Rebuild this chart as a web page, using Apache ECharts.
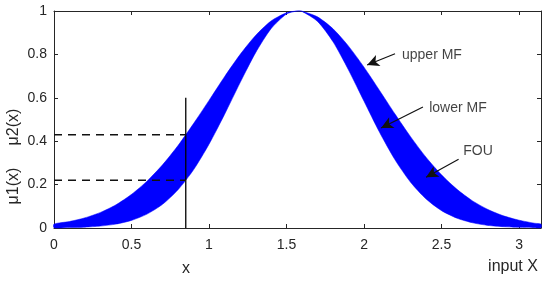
<!DOCTYPE html>
<html lang="en">
<head>
    <meta charset="UTF-8">
    <title>FOU</title>
    <script src="https://cdn.jsdelivr.net/npm/echarts@6/dist/echarts.min.js"></script>
    <style>
        html, body { margin: 0; padding: 0; background: #fff; }
    </style>
</head>
<body>
    <div id="main" style="width: 550px;height:281px;"></div>
</body>
    <script type="text/javascript">
        var xs = [0, 0.1, 0.2, 0.3, 0.4, 0.5, 0.6, 0.7, 0.8, 0.9, 1.0, 1.1, 1.2, 1.3, 1.4, 1.5, 1.57,
                  1.6, 1.7, 1.8, 1.9, 2.0, 2.1, 2.2, 2.3, 2.4, 2.5, 2.6, 2.7, 2.8, 2.9, 3.0, 3.1, 3.1416];
        var upperMF = [0.018, 0.030, 0.047, 0.072, 0.107, 0.155, 0.216, 0.291, 0.380, 0.481, 0.588, 0.697, 0.799, 0.887, 0.954, 0.992, 1.0,
                       0.999, 0.973, 0.918, 0.838, 0.741, 0.634, 0.525, 0.421, 0.326, 0.245, 0.178, 0.125, 0.085, 0.056, 0.036, 0.022, 0.018];
        var lowerMF = [0.001, 0.002, 0.004, 0.009, 0.018, 0.035, 0.064, 0.109, 0.176, 0.268, 0.386, 0.523, 0.669, 0.807, 0.918, 0.986, 1.0,
                       0.998, 0.952, 0.858, 0.728, 0.584, 0.441, 0.314, 0.211, 0.134, 0.080, 0.045, 0.024, 0.012, 0.006, 0.003, 0.001, 0.001];

        // the input x and its two grades
        var cutX = 0.85;
        var cutTop = 0.6;
        var cutGrades = [0.43, 0.22];

        // annotations: [text x, text y, arrow start x, arrow start y, arrow tip x, arrow tip y]
        var noteNames = ['upper MF', 'lower MF', 'FOU'];
        var notePos = [
            [2.245, 0.797, 2.20, 0.803, 2.02, 0.751],
            [2.42, 0.553, 2.38, 0.558, 2.11, 0.461],
            [2.64, 0.352, 2.61, 0.317, 2.40, 0.234]
        ];

        var xTicks = [0, 0.5, 1, 1.5, 2, 2.5, 3];

        var axisColor = '#262626';
        var font = 'Liberation Sans, Arial, sans-serif';

        var myChart = echarts.init(document.getElementById('main'));

        // FOU band: polygon along upper MF, back along lower MF
        function renderBand(params, api) {
            var pts = [];
            for (var i = 0; i < xs.length; i++) {
                pts.push(api.coord([xs[i], upperMF[i]]));
            }
            for (var j = xs.length - 1; j >= 0; j--) {
                pts.push(api.coord([xs[j], lowerMF[j]]));
            }
            return {
                type: 'polygon',
                shape: { points: pts, smooth: 0.25 },
                style: { fill: '#0000ff', stroke: '#0000ff', lineWidth: 0.5 }
            };
        }

        function sideAxisX(pos, showLabel) {
            return {
                type: 'value', position: pos, min: 0, max: 3.1416, interval: 0.5,
                axisLine: { onZero: false, lineStyle: { color: axisColor, width: 1 } },
                axisTick: { inside: true, length: 4, lineStyle: { color: axisColor } },
                axisLabel: {
                    show: showLabel, color: axisColor, fontSize: 14, fontFamily: font, margin: 10,
                    formatter: function (v) { return xTicks.indexOf(v) >= 0 ? String(v) : ''; }
                },
                splitLine: { show: false }
            };
        }

        function sideAxisY(pos, showLabel) {
            return {
                type: 'value', position: pos, min: 0, max: 1, interval: 0.2,
                axisLine: { show: true, onZero: false, lineStyle: { color: axisColor, width: 1 } },
                axisTick: { show: true, inside: true, length: 4, lineStyle: { color: axisColor } },
                axisLabel: { show: showLabel, color: axisColor, fontSize: 14, fontFamily: font, margin: 7 },
                splitLine: { show: false }
            };
        }

        var option = {
            animation: false,
            backgroundColor: '#fff',
            grid: { left: 54, right: 9, top: 11, bottom: 53 },
            xAxis: [sideAxisX('bottom', true), sideAxisX('top', false)],
            yAxis: [sideAxisY('left', true), sideAxisY('right', false)],
            graphic: [
                { type: 'text', x: 14, y: 127, rotation: Math.PI / 2,
                  style: { text: 'μ2(x)', fill: axisColor, font: '16px ' + font, align: 'center', verticalAlign: 'middle' } },
                { type: 'text', x: 14, y: 186, rotation: Math.PI / 2,
                  style: { text: 'μ1(x)', fill: axisColor, font: '16px ' + font, align: 'center', verticalAlign: 'middle' } },
                { type: 'text', x: 186, y: 269,
                  style: { text: 'x', fill: axisColor, font: '16px ' + font, align: 'center', verticalAlign: 'middle' } },
                { type: 'text', x: 513, y: 267,
                  style: { text: 'input X', fill: axisColor, font: '16px ' + font, align: 'center', verticalAlign: 'middle' } }
            ],
            series: [
                {
                    name: 'band', type: 'custom', renderItem: renderBand,
                    data: [0], z: 2, silent: true
                },
                {
                    name: 'cut', type: 'line', symbol: 'none',
                    lineStyle: { color: '#000', width: 1.3 },
                    data: [[cutX, 0], [cutX, cutTop]], z: 5
                },
                {
                    name: 'grade1', type: 'line', symbol: 'none',
                    lineStyle: { color: '#111', width: 1.4, type: [8, 6] },
                    data: [[0, cutGrades[0]], [cutX, cutGrades[0]]], z: 5
                },
                {
                    name: 'grade2', type: 'line', symbol: 'none',
                    lineStyle: { color: '#111', width: 1.4, type: [8, 6] },
                    data: [[0, cutGrades[1]], [cutX, cutGrades[1]]], z: 5
                },
                {
                    name: 'notes', type: 'scatter', symbolSize: 0, z: 6,
                    data: notePos.map(function (p, i) { return { name: noteNames[i], value: [p[0], p[1]] }; }),
                    label: {
                        show: true, position: 'right', distance: 0,
                        color: '#111', fontSize: 14, fontFamily: font,
                        formatter: function (p) { return p.name; }
                    },
                    markLine: {
                        silent: true, animation: false,
                        symbol: ['none', 'arrow'], symbolSize: [9, 12],
                        lineStyle: { color: '#111', width: 1.2, type: 'solid' },
                        label: { show: false },
                        data: notePos.map(function (p) {
                            return [{ coord: [p[2], p[3]] }, { coord: [p[4], p[5]] }];
                        })
                    }
                }
            ]
        };

        myChart.setOption(option);
    </script>
</html>
